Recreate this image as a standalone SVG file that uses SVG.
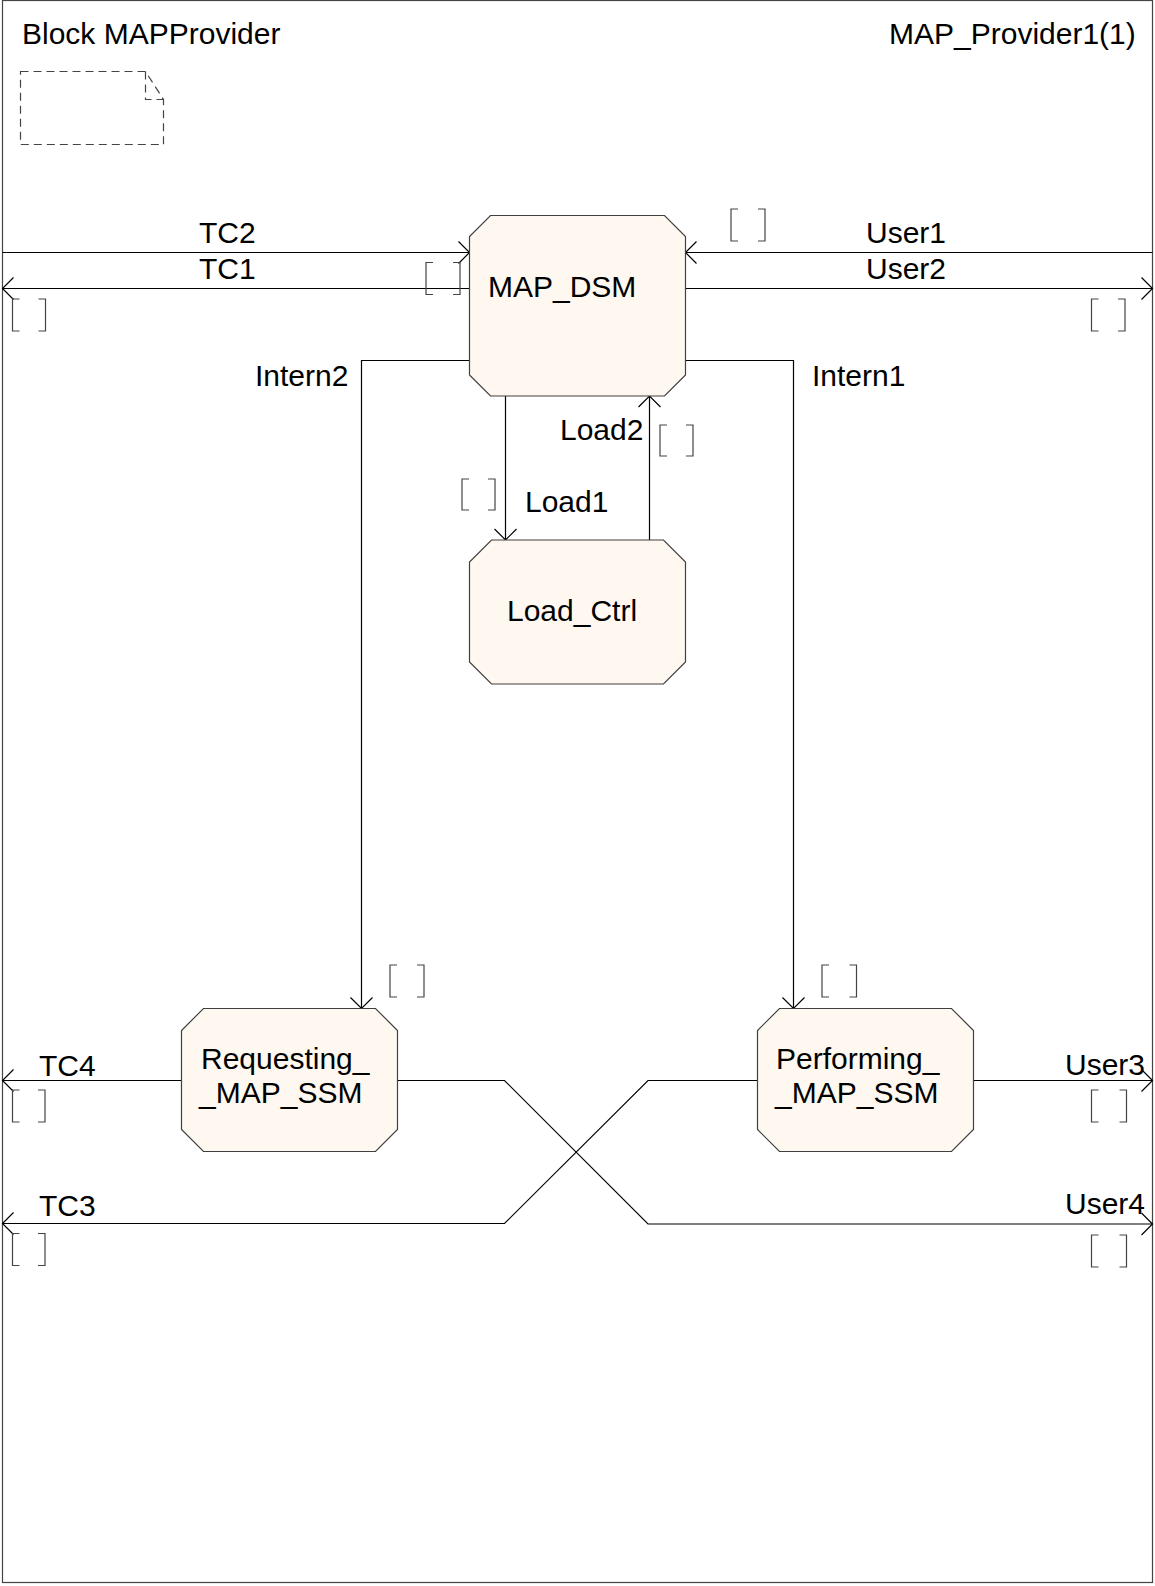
<svg xmlns="http://www.w3.org/2000/svg" width="1155" height="1586" viewBox="0 0 1155 1586">
<style>
text{font-family:"Liberation Sans",Arial,sans-serif;font-size:30px;fill:#000}
.node{fill:#fef8f1;stroke:#404040;stroke-width:1.2}
.conn{fill:none;stroke:#000;stroke-width:1.2}
.br{fill:none;stroke:#444;stroke-width:1.2}
</style>
<defs>
<marker id="arr" markerUnits="userSpaceOnUse" markerWidth="24" markerHeight="24" viewBox="-12 -12 24 24" refX="0" refY="0" orient="auto">
<path d="M-11 -11 L0 0 L-11 11" fill="none" stroke="#000" stroke-width="1.2"/>
</marker>
</defs>
<rect width="1155" height="1586" fill="#fff"/>
<g id="frame">
<rect x="2.5" y="0.5" width="1150" height="1582" fill="none" stroke="#444" stroke-width="1.2"/>
<text x="22" y="44">Block MAPProvider</text>
<text x="889" y="44">MAP_Provider1(1)</text>
<path d="M20.5 71.5 H145.5 L163.5 99.5 V144.5 H20.5 Z M145.5 71.5 V99.5 H163.5" fill="none" stroke="#444" stroke-width="1.2" stroke-dasharray="8 5"/>
</g>
<g id="connectors">
<path class="conn" d="M2.5 252.5 H469.5" marker-end="url(#arr)"/>
<path class="conn" d="M469.5 288.5 H2.5" marker-end="url(#arr)"/>
<path class="conn" d="M1152.5 252.5 H685.5" marker-end="url(#arr)"/>
<path class="conn" d="M685.5 288.5 H1152.5" marker-end="url(#arr)"/>
<path class="conn" d="M469.5 360.5 H361.5 V1008.5" marker-end="url(#arr)"/>
<path class="conn" d="M685.5 360.5 H793.5 V1008.5" marker-end="url(#arr)"/>
<path class="conn" d="M505.5 396 V540" marker-end="url(#arr)"/>
<path class="conn" d="M649.5 540 V396" marker-end="url(#arr)"/>
<path class="conn" d="M181.5 1080.5 H2.5" marker-end="url(#arr)"/>
<path class="conn" d="M973.5 1080.5 H1152.5" marker-end="url(#arr)"/>
<path class="conn" d="M397.5 1080.5 H504.5 L648 1224 H1152.5" marker-end="url(#arr)"/>
<path class="conn" d="M757.5 1080.5 H648 L504.5 1223.5 H2.5" marker-end="url(#arr)"/>
<text x="199" y="243">TC2</text>
<text x="199" y="279">TC1</text>
<text x="866" y="243">User1</text>
<text x="866" y="279">User2</text>
<text x="255" y="386">Intern2</text>
<text x="812" y="386">Intern1</text>
<text x="560" y="440">Load2</text>
<text x="525" y="512">Load1</text>
<text x="39" y="1076">TC4</text>
<text x="39" y="1216">TC3</text>
<text x="1065" y="1075">User3</text>
<text x="1065" y="1214">User4</text>
<path class="br" d="M433 262.5 H426 V294.5 H433 M453 262.5 H460 V294.5 H453"/>
<path class="br" d="M738 209 H731 V241 H738 M758 209 H765 V241 H758"/>
<path class="br" d="M19.5 299 H12.5 V331 H19.5 M38.5 299 H45.5 V331 H38.5"/>
<path class="br" d="M1098.5 299 H1091.5 V331 H1098.5 M1118 299 H1125 V331 H1118"/>
<path class="br" d="M667 425 H660 V456 H667 M686 425 H693 V456 H686"/>
<path class="br" d="M469 479 H462 V510 H469 M488 479 H495 V510 H488"/>
<path class="br" d="M397 965 H390 V997 H397 M417 965 H424 V997 H417"/>
<path class="br" d="M829 965 H822 V997 H829 M849.5 965 H856.5 V997 H849.5"/>
<path class="br" d="M19.5 1090 H12.5 V1122 H19.5 M38 1090 H45 V1122 H38"/>
<path class="br" d="M19.5 1233.5 H12.5 V1265.5 H19.5 M38 1233.5 H45 V1265.5 H38"/>
<path class="br" d="M1098.5 1090 H1091.5 V1122 H1098.5 M1119.5 1090 H1126.5 V1122 H1119.5"/>
<path class="br" d="M1098.5 1235 H1091.5 V1267 H1098.5 M1119.5 1235 H1126.5 V1267 H1119.5"/>
</g>
<g id="MAP_DSM">
<path class="node" d="M490.5 215.5 H664.5 L685.5 236.5 V375 L664.5 396 H490.5 L469.5 375 V236.5 Z"/>
<text x="488" y="297">MAP_DSM</text>
</g>
<g id="Load_Ctrl">
<path class="node" d="M491.5 540 H663.5 L685.5 562 V662 L663.5 684 H491.5 L469.5 662 V562 Z"/>
<text x="507" y="621">Load_Ctrl</text>
</g>
<g id="Requesting_MAP_SSM">
<path class="node" d="M203.5 1008.5 H375.5 L397.5 1030.5 V1129.5 L375.5 1151.5 H203.5 L181.5 1129.5 V1030.5 Z"/>
<text x="201" y="1069">Requesting_</text>
<text x="199" y="1103">_MAP_SSM</text>
</g>
<g id="Performing_MAP_SSM">
<path class="node" d="M779.5 1008.5 H951.5 L973.5 1030.5 V1129.5 L951.5 1151.5 H779.5 L757.5 1129.5 V1030.5 Z"/>
<text x="776" y="1069">Performing_</text>
<text x="775" y="1103">_MAP_SSM</text>
</g>
</svg>
